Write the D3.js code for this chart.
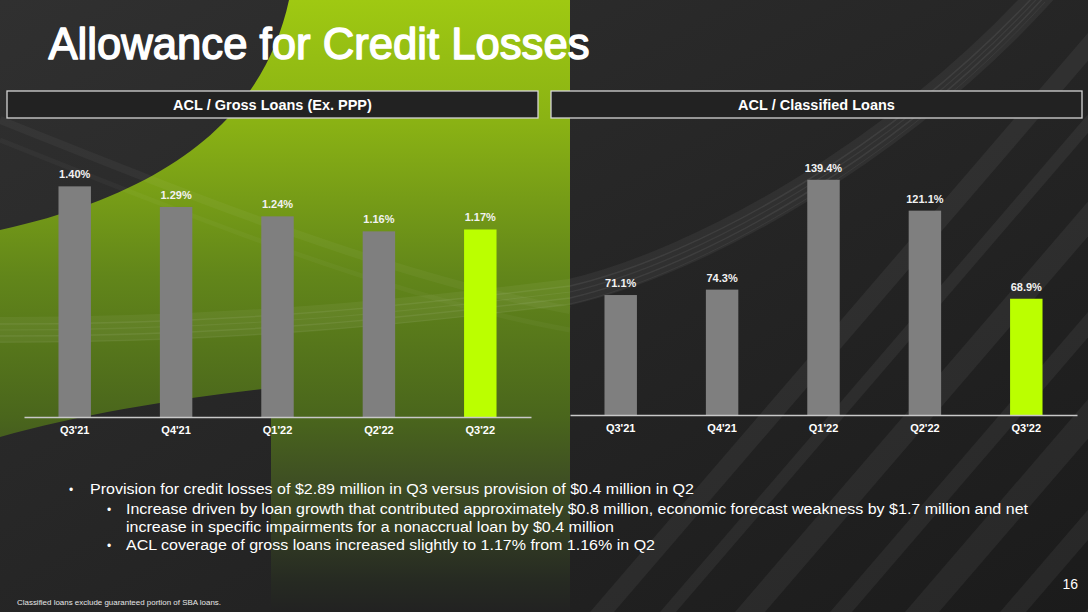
<!DOCTYPE html>
<html><head><meta charset="utf-8">
<script src="https://cdn.jsdelivr.net/npm/d3@7"></script>
<style>
html,body{margin:0;padding:0;background:#252525;}
svg{display:block;font-family:"Liberation Sans",Arial,sans-serif;}
</style></head>
<body>
<svg id="c" width="1088" height="612"></svg>
<script>
const categories = ["Q3'21","Q4'21","Q1'22","Q2'22","Q3'22"];
const grossLoanRatio = [1.40, 1.29, 1.24, 1.16, 1.17];
const grossLabels = ["1.40%","1.29%","1.24%","1.16%","1.17%"];
const classifiedRatio = [71.1, 74.3, 139.4, 121.1, 68.9];
const classifiedLabels = ["71.1%","74.3%","139.4%","121.1%","68.9%"];
const highlightCategory = "Q3'22";
const titleText = "Allowance for Credit Losses";
const panelTitles = ["ACL / Gross Loans (Ex. PPP)", "ACL / Classified Loans"];
const bullets = [
  {level:0, text:"Provision for credit losses of $2.89 million in Q3 versus provision of $0.4 million in Q2"},
  {level:1, text:"Increase driven by loan growth that contributed approximately $0.8 million, economic forecast weakness by $1.7 million and net"},
  {level:2, text:"increase in specific impairments for a nonaccrual loan by $0.4 million"},
  {level:1, text:"ACL coverage of gross loans increased slightly to 1.17% from 1.16% in Q2"}
];
const footnote = "Classified loans exclude guaranteed portion of SBA loans.";
const pageNumber = "16";

const svg = d3.select("#c");
const W = 1088, H = 612;
const defs = svg.append("defs");

// ---------- background ----------
const bgGrad = defs.append("linearGradient").attr("id","bg").attr("x1",0).attr("y1",0).attr("x2",1).attr("y2",1);
bgGrad.append("stop").attr("offset","0").attr("stop-color","#303030");
bgGrad.append("stop").attr("offset","1").attr("stop-color","#1b1b1b");
svg.append("rect").attr("width",W).attr("height",H).attr("fill","url(#bg)");

const gGrad = defs.append("linearGradient").attr("id","gg").attr("x1",0).attr("y1",0).attr("x2",0).attr("y2",1);
[["0","#9fc912"],["0.2","#8ab214"],["0.45","#62861a"],["0.68","#4a661c"],["0.8","#3d4c24"],["0.95","#262a22"],["1","#222222"]]
  .forEach(([o,c])=>gGrad.append("stop").attr("offset",o).attr("stop-color",c));
svg.append("path")
  .attr("d","M289,0 L570,0 L570,612 L271,612 L271,388 C180,398 80,414 0,437 L0,230 C180,190 265,110 289,0 Z")
  .attr("fill","url(#gg)");

// diagonal stripes on the dark right side
defs.append("clipPath").attr("id","rightClip").append("rect").attr("x",570).attr("y",0).attr("width",W-570).attr("height",H);
const stripes = svg.append("g").attr("clip-path","url(#rightClip)");
[[590,24],[660,16],[735,30],[830,22],[905,34],[1000,26],[1085,30],[1170,22]].forEach(([x0,w])=>{
  const k = 0.86, x1 = x0 + k*H;
  stripes.append("path")
    .attr("d",`M${x0},${H} L${x0+w},${H} L${x1+w},0 L${x1},0 Z`)
    .attr("fill","#ffffff").attr("opacity",0.055);
});
// curved swooshes
const sw = svg.append("g").attr("fill","none").attr("stroke","#ffffff");
sw.append("path").attr("d","M0,330 C250,330 420,310 570,292 C700,262 900,150 1045,-10")
  .attr("opacity",0.05).attr("stroke-width",26);
[[-6,0.07,1.5],[0,0.06,1.2],[6,0.07,1.5],[12,0.05,1]].forEach(([o,op,w])=>{
  sw.append("path").attr("d",`M0,${330+o} C250,${330+o} 420,${310+o} 570,${292+o} C700,${262+o} 900,${150+o} 1045,${-10+o}`)
    .attr("opacity",op).attr("stroke-width",w);
});
[[0,120,0.04,8],[0,140,0.03,5]].forEach(([x,y,o,w])=>{
  sw.append("path").attr("d",`M${x},${y} C200,${y+80} 400,${y+160} 570,${y+190}`).attr("opacity",o).attr("stroke-width",w);
});

// ---------- title ----------
svg.append("text").attr("x",48.5).attr("y",59).text(titleText)
  .attr("fill","#ffffff").attr("stroke","#ffffff").attr("stroke-width",1.5).attr("stroke-linejoin","round")
  .attr("font-size",45)
  .attr("textLength",541).attr("lengthAdjust","spacingAndGlyphs");

// ---------- panels ----------
const panels = [
  {box:[7,91,531,27], range:[24,531], base:417, values:grossLoanRatio, labels:grossLabels,
   y: d3.scaleLinear().domain([0.17,1.5]).range([417,167.6])},
  {box:[551,91,531,27], range:[570,1077], base:415, values:classifiedRatio, labels:classifiedLabels,
   y: d3.scaleLinear().domain([0,150]).range([415,161.9])}
];

panels.forEach((p,pi)=>{
  const g = svg.append("g");
  g.append("rect").attr("x",p.box[0]).attr("y",p.box[1]).attr("width",p.box[2]).attr("height",p.box[3])
    .attr("fill","#222222").attr("stroke","#d4d4d4").attr("stroke-width",1.3);
  g.append("text").attr("x",p.box[0]+p.box[2]/2).attr("y",p.box[1]+p.box[3]/2+5)
    .attr("text-anchor","middle").attr("fill","#ffffff").attr("font-size",14.5).attr("font-weight","bold")
    .text(panelTitles[pi]);

  const x = d3.scaleBand().domain(categories).range(p.range).paddingInner(0.68).paddingOuter(0.34);
  const data = categories.map((c,i)=>({c, v:p.values[i], l:p.labels[i]}));

  g.selectAll("rect.bar").data(data).join("rect").attr("class","bar")
    .attr("x",d=>x(d.c)).attr("width",x.bandwidth())
    .attr("y",d=>p.y(d.v)).attr("height",d=>p.base-p.y(d.v))
    .attr("fill",d=>d.c===highlightCategory?"#bbff00":"#7f7f7f");

  g.selectAll("text.val").data(data).join("text").attr("class","val")
    .attr("x",d=>x(d.c)+x.bandwidth()/2).attr("y",d=>p.y(d.v)-8)
    .attr("text-anchor","middle").attr("fill","#f2f2f2").attr("font-size",11).attr("font-weight","bold")
    .text(d=>d.l);

  const ax = g.append("g").attr("transform",`translate(0,${p.base})`)
    .call(d3.axisBottom(x).tickSize(0).tickPadding(9));
  ax.select(".domain").attr("stroke","#c8c8c8").attr("stroke-width",1.5);
  ax.selectAll("text").attr("fill","#ffffff").attr("font-size",11).attr("font-weight","bold")
    .attr("font-family","\"Liberation Sans\",Arial,sans-serif");
});

// ---------- bullets ----------
const bulletPos = [
  {bx:69, tx:90, y:493.5, w:604},
  {bx:107, tx:126, y:513.5, w:902},
  {bx:null, tx:126, y:531.5, w:488},
  {bx:107, tx:126, y:550, w:529}
];
const bg = svg.append("g").attr("fill","#ffffff").attr("font-size",15.5);
bullets.forEach((b,i)=>{
  const pos = bulletPos[i];
  if (b.level!==2) bg.append("text").attr("x",pos.bx).attr("y",pos.y).attr("font-size",12).text("•");
  bg.append("text").attr("x",pos.tx).attr("y",pos.y).text(b.text)
    .attr("textLength",pos.w).attr("lengthAdjust","spacingAndGlyphs");
});

svg.append("text").attr("x",1078).attr("y",588.5).attr("text-anchor","end")
  .attr("fill","#ffffff").attr("font-size",14).text(pageNumber);
svg.append("text").attr("x",17).attr("y",604.5).attr("fill","#e6e6e6").attr("font-size",8)
  .attr("textLength",204).attr("lengthAdjust","spacingAndGlyphs").text(footnote);
</script>
</body></html>
